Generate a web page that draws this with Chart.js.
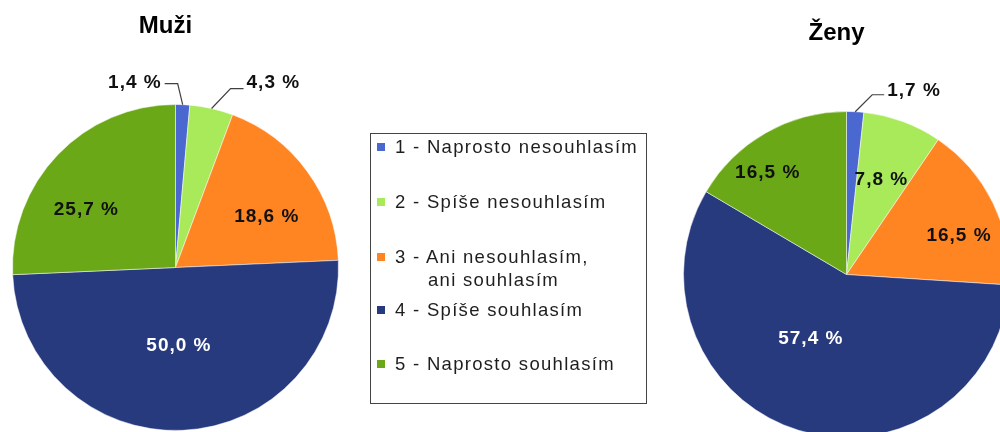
<!DOCTYPE html>
<html>
<head>
<meta charset="utf-8">
<script src="https://cdn.jsdelivr.net/npm/chart.js@4.4.0/dist/chart.umd.min.js"></script>
<style>
  html, body { margin: 0; padding: 0; background: #fff; }
  body { width: 1000px; height: 432px; overflow: hidden; position: relative; font-family: "Liberation Sans", Arial, sans-serif; }
  #muziChart { position: absolute; left: 0; top: 0; }
  #zenyChart { position: absolute; left: 640px; top: 0; }
  #legend { position: absolute; left: 370px; top: 133px; width: 277px; height: 271px; box-sizing: border-box;
            border: 1px solid #444; padding-top: 1.2px; }
  .item { display: flex; font-size: 18.5px; line-height: 23px; letter-spacing: 1.3px; color: #1e1e1e; white-space: nowrap; }
  .mark { flex: none; width: 8px; height: 8px; margin: 7.5px 10px 0 6px; }
  .item:nth-child(1), .item:nth-child(2) { margin-bottom: 32px; }
  .item:nth-child(3) { margin-bottom: 7px; }
  .item:nth-child(4) { margin-bottom: 31px; }
  .indent { padding-left: 33px; }
</style>
</head>
<body>
<canvas id="muziChart" width="360" height="450"></canvas>
<canvas id="zenyChart" width="400" height="460"></canvas>
<div id="legend"></div>
<script>
// kategorie odpovědí
const categories = [
  ['1 - Naprosto nesouhlasím'],
  ['2 - Spíše nesouhlasím'],
  ['3 - Ani nesouhlasím,', 'ani souhlasím'],
  ['4 - Spíše souhlasím'],
  ['5 - Naprosto souhlasím']
];
const muziValues = [1.4, 4.3, 18.6, 50.0, 25.7];
const zenyValues = [1.7, 7.8, 16.5, 57.4, 16.5];

const colors = ['#4B68D0', '#A9EA5A', '#FF8422', '#283A7E', '#6AA818'];
const textColors = ['#111', '#111', '#111', '#fff', '#111'];

// umístění popisků: out = [dx, dy, délka vodorovné čáry], jinak r = podíl poloměru, da = posun úhlu
const muziPlace = [
  { out: [-5, -21, -13], ty: 4 },
  { out: [19, -20, 13], ty: -1 },
  { r: 0.64, da: 7 },
  { r: 0.48, da: 0 },
  { r: 0.65, da: -11 }
];
const zenyPlace = [
  { out: [17, -17, 12], ty: 1 },
  { r: 0.62, da: 0 },
  { r: 0.73, da: 7 },
  { r: 0.45, da: 12 },
  { r: 0.79, da: -8 }
];

const fmt = v => v.toFixed(1).replace('.', ',') + ' %';

const sliceLabels = {
  id: 'sliceLabels',
  afterDatasetsDraw(chart, args, opts) {
    const ctx = chart.ctx;
    const meta = chart.getDatasetMeta(0);
    const values = chart.data.datasets[0].data;
    ctx.save();
    ctx.font = 'bold 19px "Liberation Sans", Arial, sans-serif';
    ctx.letterSpacing = '1px';
    let cx = 0;
    meta.data.forEach((arc, i) => {
      const p = arc.getProps(['x', 'y', 'startAngle', 'endAngle', 'outerRadius'], true);
      cx = p.x;
      const place = opts.place[i];
      const mid = (p.startAngle + p.endAngle) / 2;
      const text = fmt(values[i]);
      if (place.out) {
        const ex = p.x + Math.cos(mid) * p.outerRadius;
        const ey = p.y + Math.sin(mid) * p.outerRadius;
        const [dx, dy, h] = place.out;
        const kx = ex + dx, ky = ey + dy, hx = kx + h;
        ctx.strokeStyle = '#404040';
        ctx.lineWidth = 1.2;
        ctx.beginPath();
        ctx.moveTo(ex, ey);
        ctx.lineTo(kx, ky);
        ctx.lineTo(hx, ky);
        ctx.stroke();
        ctx.fillStyle = '#111';
        ctx.textAlign = h < 0 ? 'right' : 'left';
        ctx.textBaseline = 'alphabetic';
        ctx.fillText(text, hx + (h < 0 ? -3 : 3), ky + place.ty);
      } else {
        const a = mid + place.da * Math.PI / 180;
        const r = p.outerRadius * place.r;
        ctx.fillStyle = opts.textColors[i];
        ctx.textAlign = 'center';
        ctx.textBaseline = 'middle';
        ctx.fillText(text, p.x + Math.cos(a) * r, p.y + Math.sin(a) * r);
      }
    });
    // nadpis
    ctx.letterSpacing = '0px';
    ctx.font = 'bold 24px "Liberation Sans", Arial, sans-serif';
    ctx.fillStyle = '#000';
    ctx.textAlign = 'center';
    ctx.textBaseline = 'alphabetic';
    ctx.fillText(opts.title, cx - 10, chart.chartArea.top - 71);
    ctx.restore();
  }
};

function makePie(id, values, place, title, padding) {
  const ctx = document.getElementById(id).getContext('2d');
  return new Chart(ctx, {
    type: 'pie',
    data: {
      labels: categories.map(c => c.join(' ')),
      datasets: [{
        data: values,
        backgroundColor: colors,
        borderColor: 'rgba(255,255,255,0.5)',
        borderWidth: 1
      }]
    },
    options: {
      responsive: false,
      animation: false,
      devicePixelRatio: 1,
      events: [],
      layout: { padding: padding },
      plugins: {
        legend: { display: false },
        tooltip: { enabled: false },
        sliceLabels: { place: place, title: title, textColors: textColors }
      }
    },
    plugins: [sliceLabels]
  });
}

// Muži
makePie('muziChart', muziValues, muziPlace, 'Muži', { left: 12, top: 104, right: 21, bottom: 19 });
// Ženy
makePie('zenyChart', zenyValues, zenyPlace, 'Ženy', { left: 43, top: 111, right: 30, bottom: 22 });

// legenda
const legend = document.getElementById('legend');
categories.forEach((lines, i) => {
  const item = document.createElement('div');
  item.className = 'item';
  const mark = document.createElement('span');
  mark.className = 'mark';
  mark.style.background = colors[i];
  const txt = document.createElement('div');
  lines.forEach((line, j) => {
    const d = document.createElement('div');
    if (j > 0) d.className = 'indent';
    d.textContent = line;
    txt.appendChild(d);
  });
  item.appendChild(mark);
  item.appendChild(txt);
  legend.appendChild(item);
});
</script>
</body>
</html>
